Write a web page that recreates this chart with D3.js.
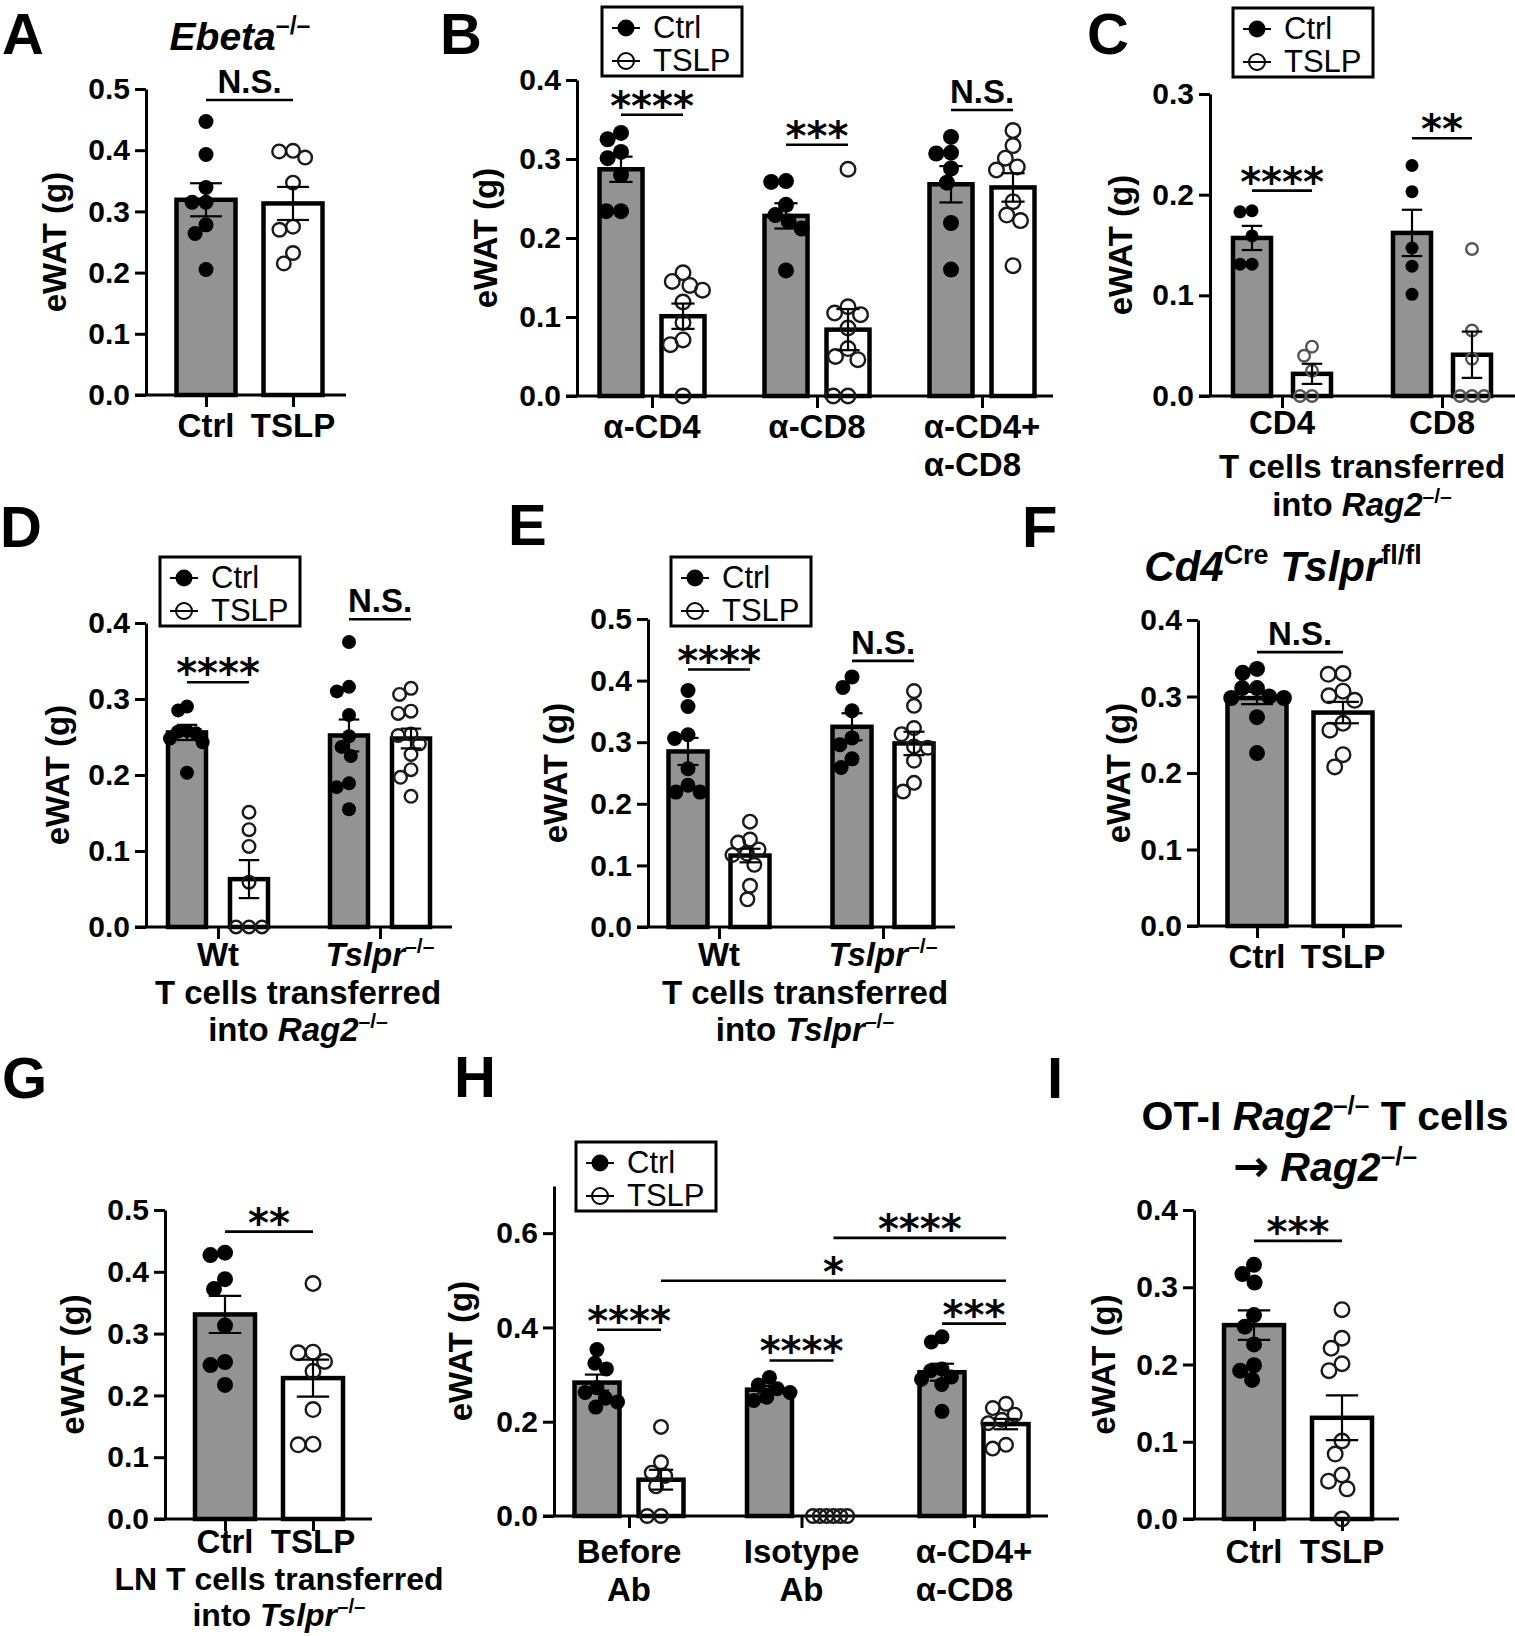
<!DOCTYPE html>
<html lang="en">
<head>
<meta charset="utf-8">
<title>eWAT panels A-I</title>
<script src="https://cdnjs.cloudflare.com/ajax/libs/d3/7.8.5/d3.min.js"></script>
<style>
  body { margin: 0; background: #fff; }
  svg text { font-family: "Liberation Sans", Arial, Helvetica, sans-serif; white-space: pre; }
</style>
</head>
<body>
<div id="chart"></div>
<script>
// ---------- data (eWAT weight, g) ----------
// A  Ebeta-/-
const aGroups = ['Ctrl', 'TSLP'];
const aMean = [0.319, 0.313];
const aSem = [0.027, 0.027];
const aPoints = [
  [0.447, 0.393, 0.339, 0.315, 0.315, 0.278, 0.264, 0.205],
  [0.398, 0.388, 0.399, 0.347, 0.275, 0.270, 0.232, 0.215]
];
const aSig = [{ text: 'N.S.', from: 0, to: 1, level: 0.482 }];

// B  antibody depletion
const bGroups = ['α-CD4', 'α-CD8', 'α-CD4+|α-CD8'];
const bCtrlMean = [0.287, 0.228, 0.268];
const bCtrlSem = [0.016, 0.016, 0.023];
const bTslpMean = [0.101, 0.084, 0.264];
const bTslpSem = [0.016, 0.026, 0.018];
const bCtrlPoints = [
  [0.333, 0.325, 0.309, 0.301, 0.280, 0.234, 0.234],
  [0.271, 0.272, 0.242, 0.229, 0.221, 0.212, 0.159],
  [0.328, 0.308, 0.307, 0.288, 0.270, 0.219, 0.160]
];
const bTslpPoints = [
  [0.156, 0.145, 0.134, 0.140, 0.119, 0.093, 0.071, 0.065, 0.0],
  [0.287, 0.113, 0.105, 0.103, 0.086, 0.060, 0.050, 0.046, 0.0, 0.0],
  [0.336, 0.317, 0.301, 0.290, 0.286, 0.246, 0.229, 0.222, 0.165]
];
const bSig = [
  { text: '****', from: 0, to: 1, level: 0.356 },
  { text: '***', from: 2, to: 3, level: 0.318 },
  { text: 'N.S.', from: 4, to: 5, level: 0.362 }
];

// C  CD4 / CD8 into Rag2-/-
const cGroups = ['CD4', 'CD8'];
const cCtrlMean = [0.157, 0.162];
const cCtrlSem = [0.012, 0.023];
const cTslpMean = [0.022, 0.041];
const cTslpSem = [0.010, 0.023];
const cCtrlPoints = [
  [0.184, 0.183, 0.159, 0.131, 0.131],
  [0.229, 0.203, 0.147, 0.129, 0.101]
];
const cTslpPoints = [
  [0.049, 0.040, 0.025, 0.0, 0.0],
  [0.146, 0.065, 0.037, 0.0, 0.0, 0.0]
];
const cSig = [
  { text: '****', from: 0, to: 1, level: 0.204 },
  { text: '**', from: 2, to: 3, level: 0.256 }
];

// D  Wt / Tslpr-/- T cells into Rag2-/-
const dGroups = ['Wt', '{i:Tslpr}{s:–/–}'];
const dCtrlMean = [0.256, 0.252];
const dCtrlSem = [0.010, 0.021];
const dTslpMean = [0.063, 0.248];
const dTslpSem = [0.025, 0.013];
const dCtrlPoints = [
  [0.290, 0.285, 0.258, 0.257, 0.255, 0.248, 0.243, 0.203],
  [0.375, 0.316, 0.310, 0.279, 0.251, 0.237, 0.225, 0.189, 0.184, 0.155]
];
const dTslpPoints = [
  [0.151, 0.128, 0.106, 0.059, 0.0, 0.0, 0.0],
  [0.314, 0.306, 0.284, 0.281, 0.254, 0.252, 0.241, 0.227, 0.207, 0.197, 0.172]
];
const dSig = [
  { text: '****', from: 0, to: 1, level: 0.322 },
  { text: 'N.S.', from: 2, to: 3, level: 0.405 }
];

// E  Wt / Tslpr-/- T cells into Tslpr-/-
const eGroups = ['Wt', '{i:Tslpr}{s:–/–}'];
const eCtrlMean = [0.285, 0.325];
const eCtrlSem = [0.022, 0.022];
const eTslpMean = [0.116, 0.298];
const eTslpSem = [0.011, 0.019];
const eCtrlPoints = [
  [0.384, 0.358, 0.312, 0.306, 0.257, 0.230, 0.219, 0.219],
  [0.406, 0.389, 0.351, 0.307, 0.296, 0.273, 0.259]
];
const eTslpPoints = [
  [0.171, 0.142, 0.137, 0.126, 0.119, 0.117, 0.101, 0.067, 0.045],
  [0.383, 0.359, 0.323, 0.313, 0.293, 0.291, 0.270, 0.234, 0.220]
];
const eSig = [
  { text: '****', from: 0, to: 1, level: 0.418 },
  { text: 'N.S.', from: 2, to: 3, level: 0.432 }
];

// F  Cd4Cre Tslpr fl/fl
const fGroups = ['Ctrl', 'TSLP'];
const fMean = [0.298, 0.279];
const fSem = [0.008, 0.014];
const fPoints = [
  [0.336, 0.331, 0.311, 0.311, 0.300, 0.298, 0.298, 0.273, 0.226],
  [0.330, 0.329, 0.307, 0.301, 0.295, 0.265, 0.256, 0.224, 0.208]
];
const fSig = [{ text: 'N.S.', from: 0, to: 1, level: 0.358 }];

// G  LN T cells into Tslpr-/-
const gGroups = ['Ctrl', 'TSLP'];
const gMean = [0.331, 0.228];
const gSem = [0.030, 0.030];
const gPoints = [
  [0.431, 0.427, 0.388, 0.372, 0.313, 0.254, 0.249, 0.217],
  [0.381, 0.270, 0.269, 0.255, 0.239, 0.177, 0.120, 0.121]
];
const gSig = [{ text: '**', from: 0, to: 1, level: 0.465 }];

// H  before / isotype / depletion
const hGroups = ['Before|Ab', 'Isotype|Ab', 'α-CD4+|α-CD8'];
const hCtrlMean = [0.283, 0.268, 0.305];
const hCtrlSem = [0.017, 0.008, 0.018];
const hTslpMean = [0.077, 0.0, 0.195];
const hTslpSem = [0.021, 0.0, 0.011];
const hCtrlPoints = [
  [0.353, 0.324, 0.312, 0.272, 0.262, 0.250, 0.242, 0.231],
  [0.294, 0.278, 0.270, 0.262, 0.252, 0.245],
  [0.380, 0.369, 0.312, 0.308, 0.295, 0.290, 0.279, 0.222]
];
const hTslpPoints = [
  [0.189, 0.114, 0.092, 0.085, 0.063, 0.0, 0.0],
  [0.0, 0.0, 0.0, 0.0, 0.0, 0.0],
  [0.238, 0.229, 0.215, 0.204, 0.197, 0.151, 0.143]
];
const hSig = [
  { text: '****', from: 0, to: 1, level: 0.395 },
  { text: '****', from: 2, to: 3, level: 0.330 },
  { text: '***', from: 4, to: 5, level: 0.408 },
  { text: '*', from: 1, to: 5, level: 0.499 },
  { text: '****', from: 3, to: 5, level: 0.590 }
];

// I  OT-I Rag2-/- T cells -> Rag2-/-
const iGroups = ['Ctrl', 'TSLP'];
const iMean = [0.251, 0.131];
const iSem = [0.019, 0.029];
const iPoints = [
  [0.329, 0.317, 0.306, 0.264, 0.249, 0.226, 0.199, 0.192, 0.180],
  [0.271, 0.234, 0.221, 0.201, 0.192, 0.101, 0.084, 0.057, 0.049, 0.039, 0.0]
];
const iSig = [{ text: '***', from: 0, to: 1, level: 0.360 }];

const legendItems = ['Ctrl', 'TSLP'];

// ---------- layout ----------
const W = 1515, H = 1636;
const BAR_GREY = '#939393';
const LAB = 33;   // category label / subtitle size

const panels = [
  { letter: 'A', lx: 2, ly: 54, axisX: 146, y0: 395, yTop: 89, ymax: 0.5, xEnd: 346,
    groups: aGroups, xr: [206, 293], single: true, barW: 59, r: 7.5, labY: 437, yLabOff: 92,
    mean: aMean, sem: aSem, pts: aPoints, sig: aSig,
    title: { lines: ['{i:Ebeta}{s:–/–}'], x: 240, y: [50], size: 39 } },
  { letter: 'B', lx: 440, ly: 54, axisX: 577, y0: 396, yTop: 80, ymax: 0.4, xEnd: 1053,
    groups: bGroups, xr: [652, 982], off: 31, barW: 43, r: 8, labY: 438, yLabOff: 92,
    series: [{ mean: bCtrlMean, sem: bCtrlSem, pts: bCtrlPoints }, { mean: bTslpMean, sem: bTslpSem, pts: bTslpPoints }],
    sig: bSig, legend: [602, 7] },
  { letter: 'C', lx: 1087, ly: 54, axisX: 1210, y0: 396, yTop: 94, ymax: 0.3, xEnd: 1515,
    groups: cGroups, xr: [1282, 1442], off: 30, barW: 38, r: 6.5, labY: 434, yLabOff: 90,
    series: [{ mean: cCtrlMean, sem: cCtrlSem, pts: cCtrlPoints }, { mean: cTslpMean, sem: cTslpSem, pts: cTslpPoints }],
    sig: cSig, legend: [1233, 8], openColor: '#555',
    sub: { lines: ['T cells transferred', 'into {i:Rag2}{s:–/–}'], x: 1362, y: [478, 516] } },
  { letter: 'D', lx: 0, ly: 547, axisX: 146, y0: 927, yTop: 623, ymax: 0.4, xEnd: 452,
    groups: dGroups, xr: [218, 380], off: 31, barW: 38, r: 7, labY: 966, yLabOff: 89,
    series: [{ mean: dCtrlMean, sem: dCtrlSem, pts: dCtrlPoints }, { mean: dTslpMean, sem: dTslpSem, pts: dTslpPoints }],
    sig: dSig, legend: [160, 557],
    sub: { lines: ['T cells transferred', 'into {i:Rag2}{s:–/–}'], x: 298, y: [1004, 1041] } },
  { letter: 'E', lx: 508, ly: 545, axisX: 648, y0: 927, yTop: 619, ymax: 0.5, xEnd: 955,
    groups: eGroups, xr: [719, 883], off: 31, barW: 39, r: 7.5, labY: 966, yLabOff: 93,
    series: [{ mean: eCtrlMean, sem: eCtrlSem, pts: eCtrlPoints }, { mean: eTslpMean, sem: eTslpSem, pts: eTslpPoints }],
    sig: eSig, legend: [671, 557],
    sub: { lines: ['T cells transferred', 'into {i:Tslpr}{s:–/–}'], x: 805, y: [1004, 1041] } },
  { letter: 'F', lx: 1022, ly: 547, axisX: 1198, y0: 926, yTop: 620, ymax: 0.4, xEnd: 1402,
    groups: fGroups, xr: [1257, 1343], single: true, barW: 59, r: 8, labY: 968, yLabOff: 80,
    mean: fMean, sem: fSem, pts: fPoints, sig: fSig,
    title: { lines: ['{i:Cd4}{s:Cre} {i:Tslpr}{s:fl/fl}'], x: 1283, y: [581], size: 42 } },
  { letter: 'G', lx: 2, ly: 1098, axisX: 165, y0: 1519, yTop: 1210, ymax: 0.5, xEnd: 372,
    groups: gGroups, xr: [225, 313], single: true, barW: 60, r: 8, labY: 1553, yLabOff: 93,
    mean: gMean, sem: gSem, pts: gPoints, sig: gSig,
    sub: { lines: ['LN T cells transferred', 'into {i:Tslpr}{s:–/–}'], x: 279, y: [1590, 1626], size: 32 } },
  { letter: 'H', lx: 454, ly: 1097, axisX: 554, y0: 1516, yTop: 1186, ymax: 0.7, tickStep: 0.2, xEnd: 1048,
    groups: hGroups, xr: [629, 974], off: 32, barW: 45, r: 7.5, labY: 1563, yLabOff: 94,
    series: [{ mean: hCtrlMean, sem: hCtrlSem, pts: hCtrlPoints }, { mean: hTslpMean, sem: hTslpSem, pts: hTslpPoints }],
    sig: hSig, legend: [576, 1142] },
  { letter: 'I', lx: 1047, ly: 1098, axisX: 1194, y0: 1519, yTop: 1210, ymax: 0.4, xEnd: 1399,
    groups: iGroups, xr: [1254, 1342], single: true, barW: 60, r: 8, labY: 1563, yLabOff: 91,
    mean: iMean, sem: iSem, pts: iPoints, sig: iSig,
    title: { lines: ['OT-I {i:Rag2}{s:–/–} T cells', '{a:→} {i:Rag2}{s:–/–}'], x: 1325, y: [1130, 1181], size: 41 } }
];

const svg = d3.select('#chart').append('svg')
  .attr('width', W).attr('height', H)
  .style('display', 'block').style('background', '#fff');

// text with {i:italic}, {s:superscript} and {a:arrow} pieces
function rich(textSel, str, size) {
  const re = /\{(i|s|a):([^}]*)\}/g;
  const parts = [];
  let last = 0, m;
  while ((m = re.exec(str))) {
    if (m.index > last) parts.push({ t: str.slice(last, m.index) });
    parts.push({ t: m[2], k: m[1] });
    last = re.lastIndex;
  }
  if (last < str.length) parts.push({ t: str.slice(last) });
  let up = false;
  parts.forEach(p => {
    const ts = textSel.append('tspan').text(p.t);
    const sup = p.k === 's';
    if (sup && !up) { ts.attr('dy', -0.4 * size); up = true; }
    else if (!sup && up) { ts.attr('dy', 0.4 * size); up = false; }
    if (sup) ts.style('font-size', (0.64 * size) + 'px');
    if (p.k === 'i') ts.style('font-style', 'italic');
    if (p.k === 'a') ts.style('font-family', '"DejaVu Sans", sans-serif').style('font-size', (1.05 * size) + 'px');
  });
  return textSel;
}

function addText(g, x, y, str, size, opts = {}) {
  const t = g.append('text')
    .attr('x', x).attr('y', y)
    .attr('text-anchor', opts.anchor || 'middle')
    .style('font-size', size + 'px')
    .style('font-weight', opts.weight || 'bold')
    .attr('fill', '#000');
  return rich(t, str, size);
}

// simple beeswarm: keep y, push x sideways until circles stop overlapping
function swarm(vals, cx, y, r, maxHalf) {
  const D = r * 1.85;
  const placed = [];
  vals.map((v, i) => ({ v, i }))
    .sort((a, b) => b.v - a.v || a.i - b.i)
    .forEach(o => {
      const py = y(o.v);
      const blocks = placed.filter(p => Math.abs(p.y - py) < D).map(p => {
        const w = Math.sqrt(D * D - (p.y - py) * (p.y - py));
        return [p.dx - w, p.dx + w];
      });
      const cands = [0];
      blocks.forEach(b => cands.push(b[0], b[1]));
      cands.sort((a, b) => Math.abs(a) - Math.abs(b) || a - b);
      const dx = cands.find(c => blocks.every(b => c <= b[0] + 1e-6 || c >= b[1] - 1e-6));
      placed.push({ y: py, dx });
    });
  const widest = d3.max(placed, p => Math.abs(p.dx)) || 0;
  const k = widest > maxHalf ? maxHalf / widest : 1;
  return placed.map(p => ({ x: cx + p.dx * k, y: p.y }));
}

function drawLegend(g, x, y) {
  g.append('rect').attr('x', x).attr('y', y).attr('width', 140).attr('height', 69)
    .attr('fill', '#fff').attr('stroke', '#000').attr('stroke-width', 3);
  legendItems.forEach((name, i) => {
    const cy = y + 21 + i * 33;
    g.append('line').attr('x1', x + 10).attr('x2', x + 38).attr('y1', cy).attr('y2', cy)
      .attr('stroke', '#000').attr('stroke-width', 2);
    g.append('circle').attr('cx', x + 24).attr('cy', cy).attr('r', i === 0 ? 8.5 : 8)
      .attr('fill', i === 0 ? '#000' : 'none').attr('stroke', '#000').attr('stroke-width', i === 0 ? 0 : 2);
    addText(g, x + 51, cy + 10, name, 31, { anchor: 'start', weight: 'normal' });
  });
}

panels.forEach(p => {
  const g = svg.append('g').attr('class', 'panel-' + p.letter);
  const step = p.tickStep || 0.1;
  const ticks = d3.range(0, Math.round(p.ymax / step) + 1).map(i => +(i * step).toFixed(1)).filter(t => t <= p.ymax + 1e-9);
  const y = d3.scaleLinear().domain([0, p.ymax]).range([p.y0, p.yTop]);
  const xs = d3.scalePoint().domain(p.groups).range(p.xr);
  const sub = d3.scalePoint().domain(legendItems).range([-(p.off || 0), p.off || 0]);

  // bars list
  let bars;
  if (p.single) {
    bars = p.groups.map((gr, i) => ({ x: xs(gr), mean: p.mean[i], sem: p.sem[i], pts: p.pts[i], open: i === 1 }));
  } else {
    bars = [];
    p.groups.forEach((gr, gi) => {
      p.series.forEach((s, si) => {
        bars.push({ x: xs(gr) + sub(legendItems[si]), mean: s.mean[gi], sem: s.sem[gi], pts: s.pts[gi], open: si === 1 });
      });
    });
  }

  // panel letter
  g.append('text').attr('x', p.lx).attr('y', p.ly)
    .style('font-size', '58px').style('font-weight', 'bold').text(p.letter);

  // y axis
  const ax = g.append('g').attr('transform', `translate(${p.axisX},0)`)
    .call(d3.axisLeft(y).tickValues(ticks).tickFormat(d3.format('.1f'))
      .tickSize(11).tickPadding(5).tickSizeOuter(0));
  ax.select('.domain').attr('stroke', '#000').attr('stroke-width', 3);
  ax.selectAll('.tick line').attr('stroke', '#000').attr('stroke-width', 3);
  ax.selectAll('.tick text').attr('fill', '#000')
    .style('font-size', '30px').style('font-weight', 'bold');

  g.append('text')
    .attr('transform', `translate(${p.axisX - p.yLabOff},${(p.y0 + p.yTop) / 2}) rotate(-90)`)
    .attr('text-anchor', 'middle').attr('dy', '0.35em')
    .style('font-size', '33px').style('font-weight', 'bold').text('eWAT (g)');

  // x axis line and category ticks
  g.append('line').attr('x1', p.axisX - 11).attr('x2', p.xEnd)
    .attr('y1', y(0)).attr('y2', y(0)).attr('stroke', '#000').attr('stroke-width', 3);
  const bx = g.append('g').attr('transform', `translate(0,${y(0)})`)
    .call(d3.axisBottom(xs).tickSize(12).tickFormat(''));
  bx.select('.domain').remove();
  bx.selectAll('.tick line').attr('stroke', '#000').attr('stroke-width', 3);

  // category labels
  p.groups.forEach(gr => {
    const lines = gr.split('|');
    const cx = xs(gr);
    const first = addText(g, cx, p.labY, lines[0], LAB);
    if (lines.length > 1) {
      if (lines[0].startsWith('α')) {
        const L = first.node().getComputedTextLength();
        addText(g, cx - L / 2, p.labY + 38, lines[1], LAB, { anchor: 'start' });
      } else {
        addText(g, cx, p.labY + 38, lines[1], LAB);
      }
    }
  });

  // bars
  bars.forEach(b => {
    if (b.mean <= 0) return;
    g.append('rect')
      .attr('x', b.x - p.barW / 2).attr('y', y(b.mean))
      .attr('width', p.barW).attr('height', y(0) - y(b.mean))
      .attr('fill', b.open ? '#fff' : BAR_GREY)
      .attr('stroke', '#000').attr('stroke-width', 4.5);
  });

  // points
  bars.forEach(b => {
    const pos = swarm(b.pts, b.x, y, p.r, p.barW / 2 - 2);
    g.append('g').selectAll('circle').data(pos).join('circle')
      .attr('cx', d => d.x).attr('cy', d => d.y)
      .attr('r', b.open ? p.r - 0.7 : p.r)
      .attr('fill', b.open ? 'none' : '#000')
      .attr('stroke', b.open ? (p.openColor || '#1a1a1a') : 'none')
      .attr('stroke-width', b.open ? 2.4 : 0);
  });

  // error bars (mean +/- SEM)
  bars.forEach(b => {
    if (b.sem <= 0) return;
    const cap = p.barW * 0.27;
    const eb = g.append('g').attr('stroke', '#000').attr('stroke-width', 2.2);
    eb.append('line').attr('x1', b.x).attr('x2', b.x)
      .attr('y1', y(b.mean - b.sem)).attr('y2', y(b.mean + b.sem));
    [b.mean - b.sem, b.mean + b.sem].forEach(v => {
      eb.append('line').attr('x1', b.x - cap).attr('x2', b.x + cap).attr('y1', y(v)).attr('y2', y(v));
    });
  });

  // significance brackets
  p.sig.forEach(s => {
    const x1 = bars[s.from].x, x2 = bars[s.to].x, ly = y(s.level);
    g.append('line').attr('x1', x1).attr('x2', x2).attr('y1', ly).attr('y2', ly)
      .attr('stroke', '#000').attr('stroke-width', 2.6);
    const star = s.text.startsWith('*');
    g.append('text').attr('x', (x1 + x2) / 2)
      .attr('y', star ? ly + 5 : ly - 7)
      .attr('text-anchor', 'middle')
      .style('font-family', star ? '"DejaVu Sans", sans-serif' : null)
      .style('font-size', star ? '40px' : '33px').style('font-weight', 'bold')
      .text(s.text);
  });

  if (p.legend) drawLegend(g, p.legend[0], p.legend[1]);

  if (p.title) {
    p.title.lines.forEach((ln, i) => addText(g, p.title.x, p.title.y[i], ln, p.title.size));
  }
  if (p.sub) {
    p.sub.lines.forEach((ln, i) => addText(g, p.sub.x, p.sub.y[i], ln, p.sub.size || LAB));
  }
});
</script>
</body>
</html>
